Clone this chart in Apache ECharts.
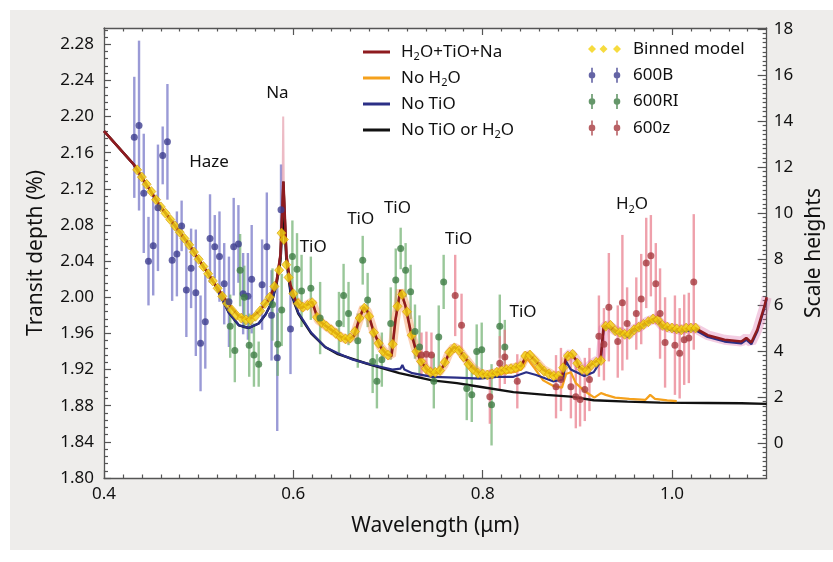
<!DOCTYPE html>
<html><head><meta charset="utf-8">
<script src="https://cdn.jsdelivr.net/npm/echarts@6/dist/echarts.min.js"></script>
<style>html,body{margin:0;padding:0;background:#fff}#c{width:833px;height:562px}</style>
</head><body><div id="c"></div>
<script>
// ---------------- DATA ----------------
const xTickValues = [0.4, 0.6, 0.8, 1.0];
const leftTickValues = [1.80, 1.84, 1.88, 1.92, 1.96, 2.00, 2.04, 2.08, 2.12, 2.16, 2.20, 2.24, 2.28];
const rightTickValues = [0, 2, 4, 6, 8, 10, 12, 14, 16, 18];

// model: H2O+TiO+Na  [wavelength, transit depth]
const modelFull = [[0.400,2.184],[0.4314,2.147],[0.4586,2.102],[0.490,2.058],[0.5162,2.016],[0.5319,1.992],[0.5424,1.979],[0.5529,1.975],[0.5634,1.984],[0.5738,1.997],[0.5822,2.017],[0.5864,2.047],[0.5895,2.128],[0.5927,2.047],[0.5969,2.014],[0.6021,1.997],[0.6084,1.988],[0.6136,1.991],[0.6199,1.995],[0.6262,1.975],[0.6346,1.968],[0.6429,1.962],[0.6503,1.956],[0.6576,1.953],[0.6639,1.957],[0.6702,1.977],[0.6743,1.989],[0.6785,1.984],[0.6848,1.962],[0.6921,1.945],[0.6984,1.937],[0.7037,1.935],[0.7079,1.975],[0.7131,2.008],[0.7183,1.991],[0.7236,1.964],[0.7288,1.944],[0.7340,1.931],[0.7403,1.921],[0.7466,1.916],[0.7539,1.917],[0.7592,1.925],[0.7644,1.938],[0.7696,1.945],[0.7749,1.942],[0.7812,1.933],[0.7885,1.923],[0.7969,1.916],[0.8063,1.914],[0.8147,1.917],[0.8230,1.920],[0.8325,1.922],[0.8408,1.924],[0.8471,1.938],[0.8545,1.931],[0.8639,1.920],[0.8743,1.914],[0.8838,1.912],[0.8880,1.933],[0.8932,1.938],[0.8984,1.931],[0.9026,1.922],[0.9079,1.919],[0.9141,1.925],[0.9194,1.929],[0.9246,1.931],[0.9277,1.967],[0.9330,1.969],[0.9403,1.963],[0.9476,1.961],[0.9539,1.958],[0.9581,1.964],[0.9654,1.967],[0.9738,1.973],[0.9832,1.977],[0.9895,1.969],[0.9979,1.966],[1.0084,1.964],[1.0241,1.966],[1.0377,1.958],[1.0555,1.953],[1.0733,1.951],[1.0785,1.955],[1.0838,1.950],[1.0901,1.964],[1.0974,1.989],[1.1000,2.000]];

// model: No H2O
const modelNoH2O = [[0.400,2.184],[0.4314,2.147],[0.4586,2.102],[0.490,2.058],[0.5162,2.016],[0.5319,1.992],[0.5424,1.979],[0.5529,1.975],[0.5634,1.984],[0.5738,1.997],[0.5822,2.017],[0.5864,2.047],[0.5895,2.128],[0.5927,2.047],[0.5969,2.014],[0.6021,1.997],[0.6084,1.988],[0.6136,1.991],[0.6199,1.995],[0.6262,1.975],[0.6346,1.968],[0.6429,1.962],[0.6503,1.956],[0.6576,1.953],[0.6639,1.957],[0.6702,1.977],[0.6743,1.989],[0.6785,1.984],[0.6848,1.962],[0.6921,1.945],[0.6984,1.937],[0.7037,1.935],[0.7079,1.975],[0.7131,2.008],[0.7183,1.991],[0.7236,1.964],[0.7288,1.944],[0.7340,1.931],[0.7403,1.921],[0.7466,1.916],[0.7539,1.917],[0.7592,1.925],[0.7644,1.938],[0.7696,1.945],[0.7749,1.942],[0.7812,1.933],[0.7885,1.923],[0.7969,1.916],[0.8063,1.914],[0.8147,1.915],[0.8230,1.916],[0.8325,1.917],[0.8408,1.920],[0.8471,1.932],[0.8545,1.922],[0.8639,1.908],[0.8743,1.902],[0.8838,1.900],[0.8880,1.915],[0.8932,1.917],[0.8984,1.905],[0.9079,1.896],[0.918,1.889],[0.925,1.894],[0.930,1.892],[0.940,1.889],[0.955,1.8875],[0.972,1.8865],[0.977,1.892],[0.982,1.8875],[0.995,1.886],[1.005,1.885]];

// model: No TiO
const modelNoTiO = [[0.400,2.184],[0.4314,2.147],[0.4586,2.102],[0.490,2.058],[0.5162,2.016],[0.5319,1.983],[0.5424,1.969],[0.5529,1.966],[0.5634,1.971],[0.5707,1.981],[0.5770,1.994],[0.5822,2.016],[0.5864,2.047],[0.5895,2.128],[0.5927,2.047],[0.5969,2.008],[0.6052,1.983],[0.6188,1.961],[0.6335,1.945],[0.6471,1.938],[0.6628,1.931],[0.6838,1.925],[0.7047,1.920],[0.7131,1.921],[0.7152,1.925],[0.7173,1.920],[0.7257,1.916],[0.7466,1.912],[0.7728,1.911],[0.7969,1.910],[0.8147,1.912],[0.8325,1.912],[0.8461,1.917],[0.8565,1.914],[0.8743,1.907],[0.8848,1.909],[0.8880,1.929],[0.8932,1.920],[0.9073,1.913],[0.9173,1.917],[0.9246,1.929],[0.9277,1.965],[0.9330,1.967],[0.9403,1.961],[0.9476,1.959],[0.9539,1.956],[0.9581,1.962],[0.9654,1.965],[0.9738,1.971],[0.9832,1.975],[0.9895,1.967],[0.9979,1.964],[1.0084,1.962],[1.0241,1.964],[1.0377,1.956],[1.0555,1.951],[1.0733,1.949],[1.0785,1.953],[1.0838,1.948],[1.0901,1.962],[1.0974,1.987],[1.1000,1.998]];

// model: No TiO or H2O
const modelNoTiOH2O = [[0.400,2.184],[0.4314,2.147],[0.4586,2.102],[0.490,2.058],[0.5162,2.016],[0.5319,1.983],[0.5424,1.969],[0.5529,1.966],[0.5634,1.971],[0.5707,1.981],[0.5770,1.994],[0.5822,2.014],[0.5864,2.040],[0.5895,2.100],[0.5927,2.040],[0.5969,2.006],[0.6052,1.982],[0.6188,1.960],[0.6335,1.945],[0.6471,1.937],[0.6764,1.927],[0.7120,1.916],[0.7466,1.908],[0.7728,1.905],[0.7969,1.901],[0.8325,1.895],[0.8670,1.892],[0.8932,1.890],[0.9173,1.886],[0.9529,1.8845],[0.9874,1.8834],[1.0377,1.883],[1.0733,1.8827],[1.1000,1.882]];

// high-resolution Na core spike
const naSpike = [[0.5882,2.06],[0.5893,2.200],[0.5904,2.06]];

// binned model
const binnedModel = [[0.435,2.141],[0.440,2.133],[0.445,2.125],[0.450,2.117],[0.455,2.108],[0.460,2.100],[0.465,2.093],[0.470,2.086],[0.475,2.079],[0.480,2.072],[0.485,2.065],[0.490,2.058],[0.495,2.050],[0.500,2.042],[0.505,2.034],[0.510,2.026],[0.515,2.018],[0.520,2.010],[0.525,2.001],[0.530,1.993],[0.535,1.986],[0.540,1.980],[0.545,1.977],[0.550,1.975],[0.555,1.975],[0.560,1.979],[0.565,1.985],[0.570,1.993],[0.575,2.000],[0.580,2.012],[0.585,2.030],[0.5875,2.071],[0.590,2.064],[0.5925,2.036],[0.595,2.022],[0.600,2.004],[0.605,1.993],[0.610,1.989],[0.615,1.991],[0.620,1.994],[0.625,1.978],[0.630,1.972],[0.635,1.968],[0.640,1.964],[0.645,1.960],[0.650,1.956],[0.655,1.954],[0.660,1.955],[0.665,1.962],[0.670,1.977],[0.675,1.988],[0.680,1.979],[0.685,1.961],[0.690,1.949],[0.695,1.940],[0.700,1.936],[0.705,1.948],[0.710,1.990],[0.715,2.003],[0.720,1.984],[0.725,1.958],[0.730,1.940],[0.735,1.929],[0.740,1.921],[0.745,1.917],[0.750,1.917],[0.755,1.919],[0.760,1.928],[0.765,1.939],[0.770,1.944],[0.775,1.941],[0.780,1.934],[0.785,1.926],[0.790,1.920],[0.795,1.916],[0.800,1.915],[0.805,1.914],[0.810,1.915],[0.815,1.917],[0.820,1.919],[0.825,1.920],[0.830,1.921],[0.835,1.922],[0.840,1.924],[0.845,1.935],[0.850,1.936],[0.855,1.930],[0.860,1.923],[0.865,1.918],[0.870,1.915],[0.875,1.913],[0.880,1.913],[0.885,1.922],[0.890,1.935],[0.895,1.937],[0.900,1.927],[0.905,1.920],[0.910,1.919],[0.915,1.925],[0.920,1.928],[0.925,1.930],[0.930,1.968],[0.935,1.969],[0.940,1.963],[0.945,1.961],[0.950,1.959],[0.955,1.959],[0.960,1.964],[0.965,1.967],[0.970,1.970],[0.975,1.973],[0.980,1.976],[0.985,1.975],[0.990,1.969],[0.995,1.967],[1.000,1.966],[1.005,1.965],[1.010,1.964],[1.015,1.966],[1.020,1.966],[1.025,1.966]];

// observations [wavelength, depth, error]
const obs600B = [[0.432,2.177,0.067],[0.437,2.190,0.094],[0.442,2.115,0.066],[0.447,2.040,0.049],[0.452,2.057,0.055],[0.457,2.099,0.070],[0.462,2.157,0.032],[0.467,2.172,0.064],[0.472,2.041,0.045],[0.477,2.048,0.047],[0.482,2.079,0.028],[0.487,2.008,0.052],[0.492,2.032,0.044],[0.497,2.005,0.070],[0.502,1.949,0.053],[0.507,1.973,0.052],[0.512,2.065,0.049],[0.517,2.056,0.035],[0.522,2.045,0.050],[0.527,2.015,0.045],[0.532,1.995,0.050],[0.537,2.056,0.054],[0.542,2.059,0.043],[0.547,2.004,0.045],[0.552,2.001,0.048],[0.556,2.020,0.060],[0.567,2.014,0.050],[0.572,2.056,0.060],[0.577,1.980,0.050],[0.583,1.933,0.081],[0.587,2.097,0.050],[0.597,1.965,0.050]];
const obs600RI = [[0.5333,1.968,0.035],[0.5382,1.941,0.035],[0.5438,2.030,0.040],[0.5482,2.000,0.035],[0.5534,1.947,0.035],[0.5584,1.936,0.035],[0.5634,1.926,0.025],[0.578,1.992,0.040],[0.5835,1.948,0.035],[0.5877,1.986,0.040],[0.599,2.045,0.040],[0.6039,2.031,0.040],[0.6087,2.007,0.040],[0.6185,2.010,0.035],[0.6283,1.977,0.040],[0.6482,1.971,0.035],[0.6531,2.002,0.035],[0.6583,1.982,0.035],[0.6681,1.952,0.030],[0.6733,2.041,0.027],[0.6785,1.997,0.030],[0.6838,1.929,0.035],[0.6883,1.907,0.030],[0.6935,1.931,0.030],[0.7029,1.971,0.040],[0.7082,2.019,0.035],[0.7134,2.054,0.023],[0.7186,2.030,0.030],[0.7239,2.006,0.030],[0.7285,1.962,0.030],[0.7333,1.945,0.035],[0.7484,1.907,0.030],[0.7536,1.956,0.035],[0.7588,2.017,0.030],[0.7832,1.899,0.035],[0.7885,1.892,0.030],[0.7937,1.940,0.030],[0.799,1.942,0.030],[0.8094,1.881,0.045],[0.8181,1.968,0.035],[0.8234,1.945,0.030]];
const obs600z = [[0.7354,1.936,0.025],[0.7406,1.937,0.025],[0.7459,1.936,0.025],[0.771,2.002,0.045],[0.7777,1.969,0.035],[0.8076,1.890,0.030],[0.8181,1.927,0.030],[0.8234,1.934,0.030],[0.8366,1.907,0.030],[0.8775,1.901,0.035],[0.8827,1.909,0.035],[0.8932,1.901,0.035],[0.8984,1.890,0.035],[0.9029,1.887,0.030],[0.9079,1.898,0.035],[0.9128,1.909,0.035],[0.9228,1.957,0.045],[0.9281,1.948,0.040],[0.9333,1.989,0.060],[0.9427,1.951,0.040],[0.9476,1.994,0.075],[0.9526,1.971,0.040],[0.9623,1.982,0.040],[0.9675,1.998,0.050],[0.9728,2.038,0.050],[0.9777,2.046,0.045],[0.9829,2.015,0.045],[0.9874,1.982,0.050],[0.9927,1.950,0.050],[1.0031,1.947,0.055],[1.0081,1.938,0.050],[1.0129,1.953,0.050],[1.0178,1.955,0.050],[1.023,2.017,0.075]];

// annotations
const annotationText = ['Haze', 'Na', 'TiO', 'TiO', 'TiO', 'TiO', 'TiO', 'H2O'];
const annotationAt = [[0.511,2.149],[0.5832,2.226],[0.621,2.055],[0.6712,2.086],[0.710,2.099],[0.7746,2.064],[0.8426,1.984],[0.9578,2.103]];

// ---------------- CHART ----------------
const FONT = 'Noto Sans';
const TXT = '#111111';
const AX = '#555';
function steps(a, b, s, skip) {
  const out = [];
  const n = Math.round((b - a) / s);
  for (let i = 0; i <= n; i++) {
    const v = +(a + i * s).toFixed(5);
    if (!skip || !skip.some(t => Math.abs(t - v) < 1e-6)) out.push(v);
  }
  return out;
}
const xMinor = steps(0.42, 1.08, 0.02, xTickValues);
const leftMinor = steps(1.808, 2.296, 0.008, leftTickValues);
const rightMinor = steps(-1.4, 18.0, 0.2, rightTickValues);

const X_MIN = 0.4, X_MAX = 1.1, Y_MIN = 1.80, Y_MAX = 2.298, R_MIN = -1.52, R_MAX = 18.04;

function subRich(name) {
  return name.replace(/H2O/g, '{n|H}{s|2}{n|O}').replace(/^([^{]+)/, '{n|$1}').replace(/\}([^{}]+)\{/g, '}{n|$1}{').replace(/\}([^{}]+)$/, '}{n|$1}');
}
const richStyles = {
  n: { fontSize: 17, fontFamily: FONT, color: TXT, lineHeight: 21 },
  s: { fontSize: 11, fontFamily: FONT, color: TXT, lineHeight: 21, padding: [9, 0, 0, 0] },
  g: { width: 6, fontSize: 17, lineHeight: 21 }
};

function errSeries(name, data, color) {
  return {
    type: 'custom', name: name, data: data, z: 1, silent: true,
    encode: { x: 0, y: 1 }, clip: true,
    renderItem: function (params, api) {
      const x = api.value(0), y = api.value(1), e = api.value(2);
      const p1 = api.coord([x, y - e]), p2 = api.coord([x, y + e]);
      return { type: 'line', shape: { x1: p1[0], y1: p1[1], x2: p2[0], y2: p2[1] },
        style: { stroke: color, lineWidth: 2.4 } };
    }
  };
}
function lineSeries(name, data, color, width, z) {
  return { type: 'line', name: name, data: data, symbol: 'none', showSymbol: false, z: z, smooth: false,
    lineStyle: { color: color, width: width }, itemStyle: { color: color } };
}

const anchors = 'M0,0L0.01,0L0,0.01Z M42,16L41.99,16L42,15.99Z ';
function dotIcon() {
  let p = anchors;
  [6, 31].forEach(c => {
    p += `M${c - 0.8},0.5L${c + 0.8},0.5L${c + 0.8},5L${c - 0.8},5Z `;
    p += `M${c - 0.8},11L${c + 0.8},11L${c + 0.8},15.5L${c - 0.8},15.5Z `;
    p += `M${c - 3.3},8A3.3,3.3 0 1 1 ${c + 3.3},8A3.3,3.3 0 1 1 ${c - 3.3},8Z `;
  });
  return 'path://' + p;
}
function diamondIcon() {
  let p = anchors;
  [6, 17.5, 31].forEach(c => { p += `M${c - 4},8L${c},4L${c + 4},8L${c},12Z `; });
  return 'path://' + p;
}
const lineIcon = 'path://M0,0L0.01,0L0,0.01Z M27,14L26.99,14L27,13.99Z M0,5.6L27,5.6L27,8.4L0,8.4Z';

const chart = echarts.init(document.getElementById('c'), null, { renderer: 'canvas' });

const band1 = modelFull.filter(d => d[0] >= 0.598 && d[0] <= 0.89);
const band2 = modelFull.filter(d => d[0] >= 0.884);

function xAxisDef(pos, ticks, len, labels, line) {
  return { type: 'value', min: X_MIN, max: X_MAX, position: pos,
    axisLine: { show: line, onZero: false, lineStyle: { color: AX, width: 1.3 } },
    axisTick: { show: true, inside: true, length: len, customValues: ticks, lineStyle: { color: AX, width: 1.2 } },
    axisLabel: { show: labels, customValues: ticks, margin: 8, fontSize: 17, fontFamily: FONT, color: TXT,
      formatter: v => v.toFixed(1) },
    splitLine: { show: false } };
}
function yAxisDef(pos, min, max, ticks, len, labels, line, fmt, margin) {
  return { type: 'value', min: min, max: max, position: pos,
    axisLine: { show: line, onZero: false, lineStyle: { color: AX, width: 1.3 } },
    axisTick: { show: true, inside: true, length: len, customValues: ticks, lineStyle: { color: AX, width: 1.2 } },
    axisLabel: { show: labels, customValues: ticks, margin: margin, fontSize: 17, fontFamily: FONT, color: TXT,
      formatter: fmt },
    splitLine: { show: false } };
}

const xA0 = xAxisDef('bottom', xTickValues, 8, true, true);
xA0.name = 'Wavelength (μm)'; xA0.nameLocation = 'middle'; xA0.nameGap = 38;
xA0.nameTextStyle = { fontSize: 21, fontFamily: FONT, color: TXT };
const yA0 = yAxisDef('left', Y_MIN, Y_MAX, leftTickValues, 7, true, true, v => v.toFixed(2), 10);
yA0.name = 'Transit depth (%)'; yA0.nameLocation = 'middle'; yA0.nameGap = 57; yA0.nameRotate = 90;
yA0.nameTextStyle = { fontSize: 21, fontFamily: FONT, color: TXT };
const yA2 = yAxisDef('right', R_MIN, R_MAX, rightTickValues, 9, true, true, v => String(v), 7);
yA2.name = 'Scale heights'; yA2.nameLocation = 'middle'; yA2.nameGap = 31; yA2.nameRotate = 90;
yA2.nameTextStyle = { fontSize: 21, fontFamily: FONT, color: TXT };

const option = {
  animation: false,
  backgroundColor: '#ffffff',
  graphic: [{ type: 'rect', z: -100, silent: true, shape: { x: 10, y: 10, width: 823, height: 540 },
    style: { fill: '#eeedeb' } }],
  grid: { left: 104, right: 62, top: 28, bottom: 84, show: true, backgroundColor: '#ffffff', borderWidth: 0, containLabel: false },
  xAxis: [
    xA0,
    xAxisDef('bottom', xMinor, 3.5, false, false),
    xAxisDef('top', xTickValues, 7, false, true),
    xAxisDef('top', xMinor, 3.5, false, false)
  ],
  yAxis: [
    yA0,
    yAxisDef('left', Y_MIN, Y_MAX, leftMinor, 4, false, false, null, 8),
    yA2,
    yAxisDef('right', R_MIN, R_MAX, rightMinor, 4, false, false, null, 8)
  ],
  legend: [
    { data: [{ name: 'H2O+TiO+Na', icon: lineIcon }, { name: 'No H2O', icon: lineIcon },
             { name: 'No TiO', icon: lineIcon }, { name: 'No TiO or H2O', icon: lineIcon }],
      orient: 'vertical', left: 363, top: 41.5,
      padding: 0, itemWidth: 27, itemHeight: 14, itemGap: 5, selectedMode: false,
      itemStyle: { borderWidth: 0 },
      formatter: n => '{g| }' + subRich(n),
      textStyle: { fontSize: 17, fontFamily: FONT, color: TXT, lineHeight: 21, rich: richStyles } },
    { data: [{ name: 'Binned model', icon: diamondIcon() }, { name: '600B', icon: dotIcon() },
             { name: '600RI', icon: dotIcon() }, { name: '600z', icon: dotIcon() }],
      orient: 'vertical', left: 586, top: 38.5, padding: 0, itemWidth: 42, itemHeight: 16, itemGap: 5.3,
      selectedMode: false, itemStyle: { borderWidth: 0 },
      textStyle: { fontSize: 17, fontFamily: FONT, color: TXT, lineHeight: 21 } }
  ],
  series: [
    errSeries('err600B', obs600B, 'rgba(120,120,200,0.75)'),
    errSeries('err600RI', obs600RI, 'rgba(110,175,110,0.7)'),
    errSeries('err600z', obs600z, 'rgba(232,120,135,0.7)'),
    { type: 'line', name: 'bandOrange', data: band1, symbol: 'none', z: 2, silent: true,
      lineStyle: { color: 'rgba(245,135,60,0.38)', width: 9 } },
    { type: 'line', name: 'bandPink', data: band2, symbol: 'none', z: 2, silent: true,
      lineStyle: { color: 'rgba(215,90,160,0.30)', width: 10 } },
    { type: 'line', name: 'naSpike', data: naSpike, symbol: 'none', z: 2, silent: true,
      lineStyle: { color: 'rgba(220,120,140,0.5)', width: 2 } },
    lineSeries('No TiO or H2O', modelNoTiOH2O, '#111111', 2.4, 3),
    lineSeries('No H2O', modelNoH2O, '#f5a11c', 2.2, 3),
    lineSeries('No TiO', modelNoTiO, '#2b2f86', 2.2, 3),
    lineSeries('H2O+TiO+Na', modelFull, '#8e1b1f', 2.6, 4),
    { type: 'scatter', name: 'Binned model', data: binnedModel, symbol: 'diamond', symbolSize: [9, 10], z: 5,
      itemStyle: { color: '#f4d20e', borderColor: '#d79a06', borderWidth: 0.8 } },
    { type: 'scatter', name: '600B', data: obs600B, symbol: 'circle', symbolSize: 7, z: 6,
      encode: { x: 0, y: 1 }, itemStyle: { color: '#3d3d8f' } },
    { type: 'scatter', name: '600RI', data: obs600RI, symbol: 'circle', symbolSize: 7, z: 6,
      encode: { x: 0, y: 1 }, itemStyle: { color: '#3f7d45' } },
    { type: 'scatter', name: '600z', data: obs600z, symbol: 'circle', symbolSize: 7, z: 6,
      encode: { x: 0, y: 1 }, itemStyle: { color: '#a63a3e' } },
    { type: 'scatter', name: 'annotations', silent: true, z: 7, symbolSize: 1,
      itemStyle: { color: 'rgba(0,0,0,0)', opacity: 1 },
      data: annotationText.map((t, i) => ({ name: t, value: annotationAt[i] })),
      label: { show: true, position: 'inside', color: TXT, opacity: 1, textBorderWidth: 0,
        fontSize: 17, fontFamily: FONT,
        formatter: p => subRich(p.name),
        rich: { n: { fontSize: 17, fontFamily: FONT, color: TXT, lineHeight: 21, textBorderWidth: 0 },
                s: { fontSize: 11, fontFamily: FONT, color: TXT, lineHeight: 21, padding: [11, 0, 0, 0], textBorderWidth: 0 } } } }
  ]
};
chart.setOption(option);
</script></body></html>
